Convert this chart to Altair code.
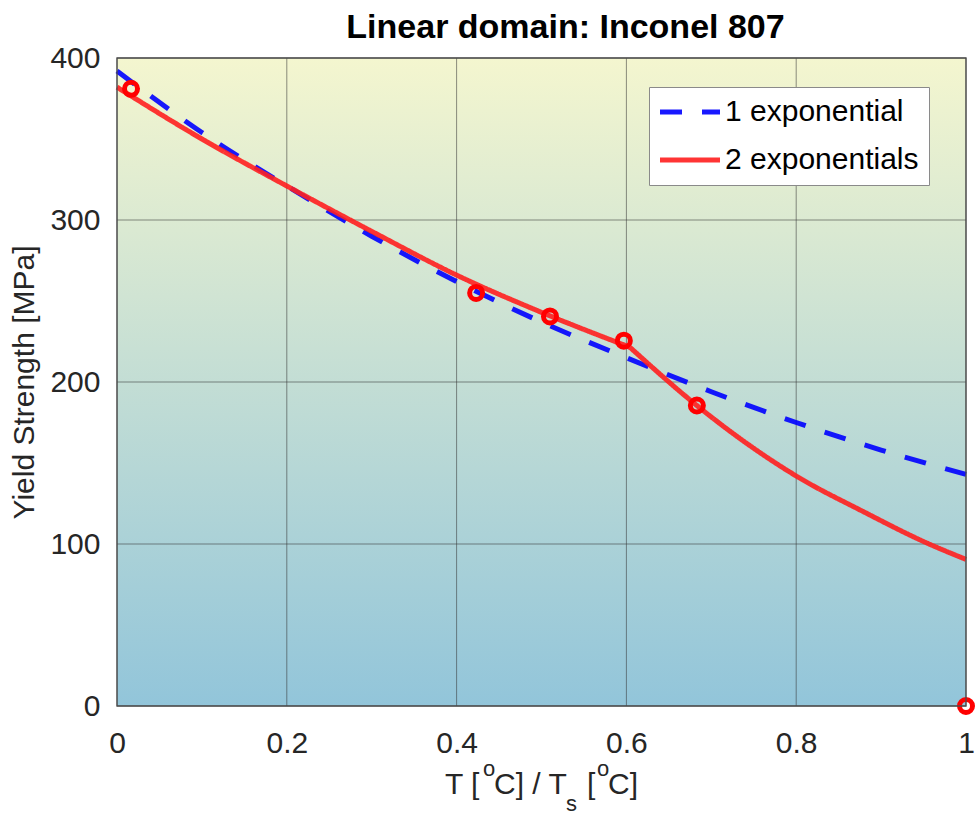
import altair as alt
import pandas as pd

# ---- data ----
blue_x = [0.0, 0.1, 0.2, 0.3, 0.4, 0.5, 0.6, 0.7, 0.8, 0.9, 1.0]
blue_y = [392, 354, 321, 290, 262, 237, 215, 194, 175, 158, 143]

red_x_a = [0.0, 0.1, 0.2, 0.3, 0.4, 0.5, 0.604]
red_y_a = [382, 350, 321, 293, 266, 243, 221.5]
red_x_b = [0.604, 0.683, 0.742, 0.8, 0.879, 0.954, 1.0]
red_y_b = [221.5, 185.5, 162, 142, 120, 100.6, 90.5]

marker_x = [0.0165, 0.423, 0.51, 0.597, 0.683, 1.0]
marker_y = [381, 255, 240.5, 225.5, 185.5, 0]

x_ticks = [0, 0.2, 0.4, 0.6, 0.8, 1.0]
y_ticks = [0, 100, 200, 300, 400]

series_names = ["1 exponential", "2 exponentials"]
series_colors = ["#0000FF", "#FF1F1F"]

W, H = 849, 648
FONT = "Liberation Sans"

rows = []
for x, y in zip(blue_x, blue_y):
    rows.append({"x": x, "y": y, "series": series_names[0], "seg": "b"})
for x, y in zip(red_x_a, red_y_a):
    rows.append({"x": x, "y": y, "series": series_names[1], "seg": "r1"})
for x, y in zip(red_x_b, red_y_b):
    rows.append({"x": x, "y": y, "series": series_names[1], "seg": "r2"})
lines_df = pd.DataFrame(rows)
markers_df = pd.DataFrame({"x": marker_x, "y": marker_y})
xt_df = pd.DataFrame({"x": x_ticks})
yt_df = pd.DataFrame({"y": y_ticks})

xscale = alt.Scale(domain=[0, 1], nice=False, zero=False)
yscale = alt.Scale(domain=[0, 400], nice=False, zero=False)

xaxis = alt.Axis(values=x_ticks, format="~g", title="", grid=False, ticks=False,
                 domain=False, labelFontSize=30, labelFont=FONT,
                 labelColor="#262626", labelPadding=22, labelFlush=False)
yaxis = alt.Axis(values=y_ticks, format="d", title="Yield Strength [MPa]",
                 grid=False, ticks=False, domain=False, labelFontSize=30,
                 labelFont=FONT, labelColor="#262626", labelPadding=17,
                 titleFont=FONT, titleFontSize=30, titleFontWeight="normal",
                 titleColor="#262626", titleX=-84, titleY=H / 2,
                 titleBaseline="alphabetic", titleAlign="center",
                 labelFlush=False)

one = alt.Data(values=[{"a": 1}])

bg = alt.Chart(one).mark_rect(
    color=alt.Gradient(
        gradient="linear",
        stops=[alt.GradientStop(color="#F4F6CF", offset=0),
               alt.GradientStop(color="#92C5DA", offset=1)],
        x1=0, x2=0, y1=0, y2=1,
    )
).encode(x=alt.value(0), x2=alt.value(W), y=alt.value(0), y2=alt.value(H))

gx = alt.Chart(xt_df).mark_rule(color="#333333", opacity=0.55, strokeWidth=1).encode(
    x=alt.X("x:Q", scale=xscale, axis=xaxis)
)
gy = alt.Chart(yt_df).mark_rule(color="#333333", opacity=0.55, strokeWidth=1).encode(
    y=alt.Y("y:Q", scale=yscale, axis=yaxis)
)

lines = alt.Chart(lines_df).mark_line(strokeWidth=5, opacity=0.9, interpolate="monotone").encode(
    x=alt.X("x:Q", scale=xscale, axis=xaxis),
    y=alt.Y("y:Q", scale=yscale, axis=yaxis),
    color=alt.Color("series:N",
                    scale=alt.Scale(domain=series_names, range=series_colors),
                    legend=alt.Legend(title=None, orient="none", legendX=532, legendY=29,
                                      fillColor="white", strokeColor="#8A8A8A",
                                      padding=10, labelFont=FONT, labelFontSize=30,
                                      labelColor="black", labelOffset=20,
                                      labelExpr="datum.label + ' '",
                                      symbolType="M-3,0H3", symbolSize=400,
                                      symbolOffset=16,
                                      symbolStrokeWidth=5, rowPadding=18,
                                      labelLimit=400, symbolOpacity=1)),
    strokeDash=alt.StrokeDash("series:N",
                              scale=alt.Scale(domain=series_names, range=[[22, 20], [1, 0]]),
                              legend=alt.Legend(title=None, orient="none", legendX=532,
                                                legendY=29)),
    detail="seg:N",
)

pts = alt.Chart(markers_df).mark_point(shape="circle", size=169, filled=False,
                                       color="#FF0000", strokeWidth=5, opacity=1,
                                       clip=False).encode(
    x=alt.X("x:Q", scale=xscale, axis=xaxis),
    y=alt.Y("y:Q", scale=yscale, axis=yaxis),
)

frame = alt.Chart(one).mark_rect(fillOpacity=0, stroke="#4D4D4D", strokeWidth=1.3).encode(
    x=alt.value(0), x2=alt.value(W), y=alt.value(0), y2=alt.value(H)
)

# x-axis title pieces (superscripts / subscript), positions relative to plot origin
OX, OY = 117, 58
pieces = [
    ("T [", 445, 794, 30),
    ("o", 483, 776, 22),
    ("C] / T", 494, 794, 30),
    ("s", 566, 811, 22),
    ("[", 587, 794, 30),
    ("o", 597, 776, 22),
    ("C]", 608, 794, 30),
]
texts = []
for t, px, py, fs in pieces:
    texts.append(
        alt.Chart(one).mark_text(text=t, font=FONT, fontSize=fs, color="#262626",
                                 align="left", baseline="alphabetic").encode(
            x=alt.value(px - OX), y=alt.value(py - OY)
        )
    )

chart = alt.layer(bg, gx, gy, lines, pts, frame, *texts).properties(
    width=W,
    height=H,
    title=alt.TitleParams("Linear domain: Inconel 807", fontSize=34, fontWeight="bold",
                          font=FONT, color="black", offset=-2, dx=24, anchor="middle",
                          frame="group"),
    autosize=alt.AutoSizeParams(type="none"),
    padding={"left": OX, "top": OY, "right": 975 - OX - W, "bottom": 817 - OY - H},
    background="white",
).configure_view(stroke=None)

chart.save("out.html", embed_options={"renderer": "svg", "actions": False})
